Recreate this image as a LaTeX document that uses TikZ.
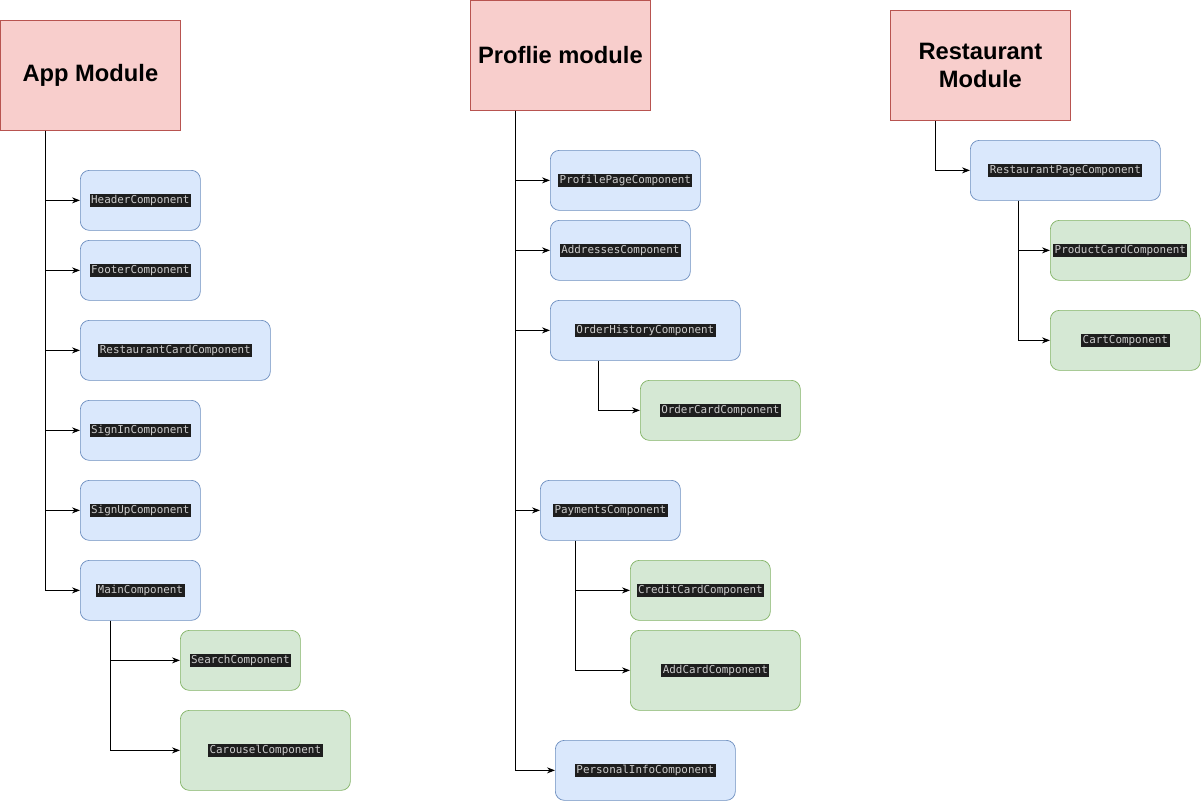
\documentclass[tikz,border=0pt]{standalone}
\usepackage{fontspec}
\setmainfont{Liberation Sans}
\setmonofont{DejaVu Sans Mono}
\usetikzlibrary{arrows.meta}
\definecolor{modfill}{HTML}{F8CECC}
\definecolor{moddraw}{HTML}{B85450}
\definecolor{bluefill}{HTML}{DAE8FC}
\definecolor{bluedraw}{HTML}{6C8EBF}
\definecolor{greenfill}{HTML}{D5E8D4}
\definecolor{greendraw}{HTML}{82B366}
\definecolor{codebg}{HTML}{1E1E1E}
\definecolor{codefg}{HTML}{CCCCCC}
\newcommand{\code}[1]{{\setlength{\fboxsep}{1.5pt}\colorbox{codebg}{\textcolor{codefg}{\ttfamily\fontsize{10.9}{12}\selectfont #1}}}}
\begin{document}
\begin{tikzpicture}[
    x=1pt, y=-1pt,
    module/.style={draw=moddraw, fill=modfill, line width=0.8pt, align=center,
      font=\fontsize{23.7}{28}\selectfont\bfseries, anchor=north west, inner sep=0pt,
      minimum width=180pt, minimum height=110pt},
    comp/.style={draw=bluedraw, fill=bluefill, line width=0.7pt, rounded corners=9pt,
      anchor=north west, inner sep=0pt, minimum height=60pt},
    sub/.style={comp, draw=greendraw, fill=greenfill},
    link/.style={-{Stealth[length=8pt,width=6pt]}, line width=0.8pt},
  ]
    \useasboundingbox (0,0) rectangle (1201,801);
    % App module
    \node[module] (app) at (0,20) {App Module};
    \node[comp, minimum width=120pt] (header) at (80,170) {\code{HeaderComponent}};
    \node[comp, minimum width=120pt] (footer) at (80,240) {\code{FooterComponent}};
    \node[comp, minimum width=190pt] (rcard) at (80,320) {\code{RestaurantCardComponent}};
    \node[comp, minimum width=120pt] (signin) at (80,400) {\code{SignInComponent}};
    \node[comp, minimum width=120pt] (signup) at (80,480) {\code{SignUpComponent}};
    \node[comp, minimum width=120pt] (main) at (80,560) {\code{MainComponent}};
    \node[sub, minimum width=120pt] (search) at (180,630) {\code{SearchComponent}};
    \node[sub, minimum width=170pt, minimum height=80pt] (carousel) at (180,710) {\code{CarouselComponent}};
    \foreach \n in {header, footer, rcard, signin, signup, main}
      \draw[link] (app.south west) ++(45,0) |- (\n.west);
    \foreach \n in {search, carousel}
      \draw[link] (main.south west) ++(30,0) |- (\n.west);
    % Profile module
    \node[module] (profile) at (470,0) {Proflie module};
    \node[comp, minimum width=150pt] (ppage) at (550,150) {\code{ProfilePageComponent}};
    \node[comp, minimum width=140pt] (addr) at (550,220) {\code{AddressesComponent}};
    \node[comp, minimum width=190pt] (history) at (550,300) {\code{OrderHistoryComponent}};
    \node[sub, minimum width=160pt] (ocard) at (640,380) {\code{OrderCardComponent}};
    \node[comp, minimum width=140pt] (pay) at (540,480) {\code{PaymentsComponent}};
    \node[sub, minimum width=140pt] (credit) at (630,560) {\code{CreditCardComponent}};
    \node[sub, minimum width=170pt, minimum height=80pt] (addcard) at (630,630) {\code{AddCardComponent}};
    \node[comp, minimum width=180pt] (personal) at (555,740) {\code{PersonalInfoComponent}};
    \foreach \n in {ppage, addr, history, pay, personal}
      \draw[link] (profile.south west) ++(45,0) |- (\n.west);
    \draw[link] (history.south west) ++(48,0) |- (ocard.west);
    \foreach \n in {credit, addcard}
      \draw[link] (pay.south west) ++(35,0) |- (\n.west);
    % Restaurant module
    \node[module] (rest) at (890,10) {Restaurant\\Module};
    \node[comp, minimum width=190pt] (rpage) at (970,140) {\code{RestaurantPageComponent}};
    \node[sub, minimum width=140pt] (pcard) at (1050,220) {\code{ProductCardComponent}};
    \node[sub, minimum width=150pt] (cart) at (1050,310) {\code{CartComponent}};
    \draw[link] (rest.south west) ++(45,0) |- (rpage.west);
    \foreach \n in {pcard, cart}
      \draw[link] (rpage.south west) ++(48,0) |- (\n.west);
  \end{tikzpicture}
\end{document}
